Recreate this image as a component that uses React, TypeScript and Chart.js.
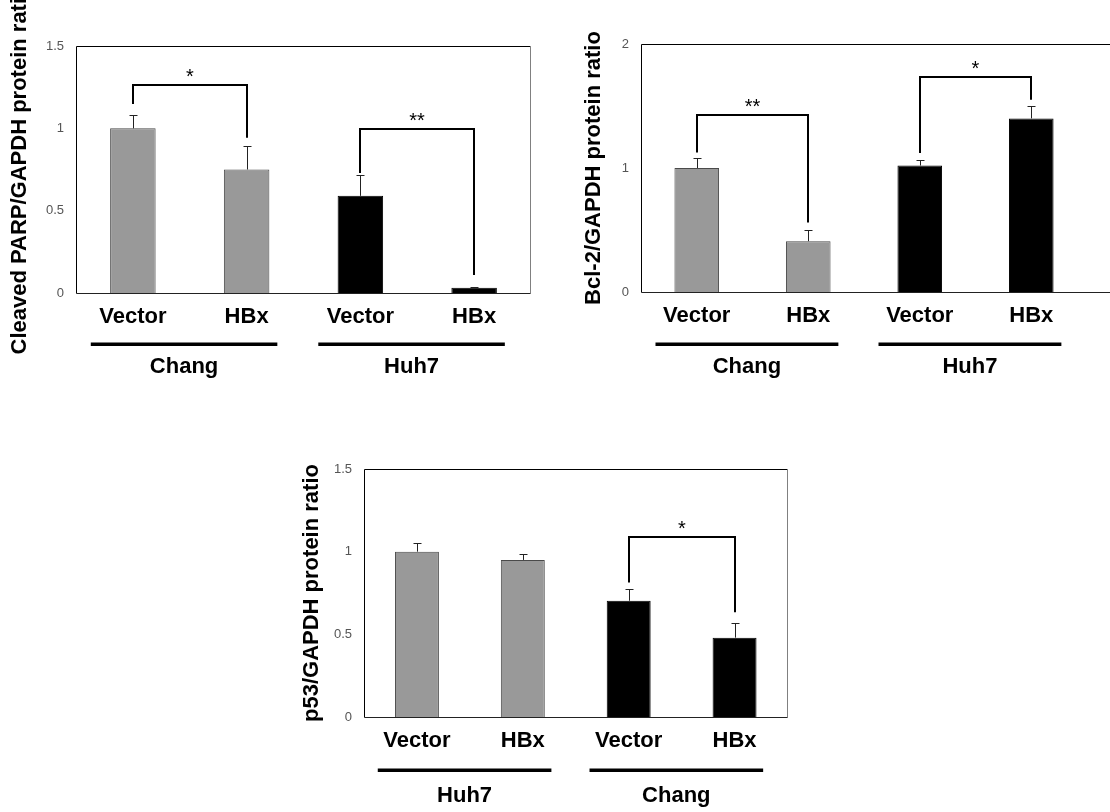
import React, { useEffect, useRef } from 'react';
import { Chart, registerables } from 'chart.js';

Chart.register(...registerables);

const FONT = 'Arial, "Liberation Sans", Helvetica, sans-serif';
Chart.defaults.font.family = FONT;

// ---------- data ----------
const categories = ['Vector', 'HBx', 'Vector', 'HBx'];

const GRAY = '#999999';
const BLACK = '#000000';
const barColors = [GRAY, GRAY, BLACK, BLACK];
const barBorders = ['#4a4a4a', '#4a4a4a', BLACK, BLACK];

// Chart 1: Cleaved PARP
const parpGroups = ['Chang', 'Huh7'];
const parpValues = [1.0, 0.75, 0.59, 0.032];
const parpErrors = [0.083, 0.14, 0.125, 0.005];
const parpTicks = [0, 0.5, 1, 1.5];
const parpBrackets = [
  { from: 0, to: 1, top: 1.263, left: 1.148, right: 0.943, mark: '*' },
  { from: 2, to: 3, top: 0.996, left: 0.729, right: 0.109, mark: '**' },
];

// Chart 2: Bcl-2
const bclGroups = ['Chang', 'Huh7'];
const bclValues = [1.0, 0.41, 1.02, 1.4];
const bclErrors = [0.08, 0.09, 0.045, 0.1];
const bclTicks = [0, 1, 2];
const bclBrackets = [
  { from: 0, to: 1, top: 1.424, left: 1.126, right: 0.561, mark: '**' },
  { from: 2, to: 3, top: 1.73, left: 1.12, right: 1.55, mark: '*' },
];

// Chart 3: p53
const p53Groups = ['Huh7', 'Chang'];
const p53Values = [1.0, 0.95, 0.703, 0.48];
const p53Errors = [0.054, 0.038, 0.073, 0.086];
const p53Ticks = [0, 0.5, 1, 1.5];
const p53Brackets = [
  { from: 2, to: 3, top: 1.089, left: 0.814, right: 0.633, mark: '*' },
];

type Bracket = { from: number; to: number; top: number; left: number; right: number; mark: string };

type Spec = {
  title: string;
  values: number[];
  errors: number[];
  groups: string[];
  ticks: number[];
  brackets: Bracket[];
  box: { left: number; top: number; w: number; h: number };
  yWidth: number;
  padTop: number;
  padRight: number;
  xHeight: number;
  titlePad: number;
  xMax: number;
  lineOff: number;
  labelOff: number;
  barPct: number;
};

const specs: Spec[] = [
  {
    title: 'Cleaved PARP/GAPDH protein ratio',
    values: parpValues, errors: parpErrors, groups: parpGroups, ticks: parpTicks, brackets: parpBrackets,
    box: { left: 0, top: 0, w: 545, h: 385 },
    yWidth: 76, padTop: 46, padRight: 14, xHeight: 92, titlePad: 7, xMax: 3.5,
    lineOff: 51, labelOff: 74, barPct: 0.4,
  },
  {
    title: 'Bcl-2/GAPDH protein ratio',
    values: bclValues, errors: bclErrors, groups: bclGroups, ticks: bclTicks, brackets: bclBrackets,
    box: { left: 560, top: 0, w: 554, h: 385 },
    yWidth: 81, padTop: 44, padRight: 0, xHeight: 93, titlePad: 21, xMax: 3.742,
    lineOff: 52, labelOff: 75, barPct: 0.4,
  },
  {
    title: 'p53/GAPDH protein ratio',
    values: p53Values, errors: p53Errors, groups: p53Groups, ticks: p53Ticks, brackets: p53Brackets,
    box: { left: 270, top: 420, w: 530, h: 392 },
    yWidth: 94, padTop: 49, padRight: 12.5, xHeight: 95, titlePad: 29, xMax: 3.5,
    lineOff: 53, labelOff: 79, barPct: 0.415,
  },
];

function makeDecor(spec: Spec) {
  return {
    id: 'decor',
    afterDatasetsDraw(chart: any) {
      const { ctx, chartArea: a, scales } = chart;
      const x = scales.x;
      const y = scales.y;
      const meta = chart.getDatasetMeta(0);
      ctx.save();

      // error bars (upper only)
      ctx.strokeStyle = '#222';
      ctx.lineWidth = 1;
      meta.data.forEach((el: any, i: number) => {
        const px = Math.round(el.x) + 0.5;
        const yTop = Math.round(y.getPixelForValue(spec.values[i] + spec.errors[i])) + 0.5;
        ctx.beginPath();
        ctx.moveTo(px, el.y);
        ctx.lineTo(px, yTop);
        ctx.moveTo(px - 4, yTop);
        ctx.lineTo(px + 4, yTop);
        ctx.stroke();
      });

      // frame
      const L = Math.round(a.left) + 0.5;
      const R = Math.round(a.right) - 0.5;
      const T = Math.round(a.top) + 0.5;
      const B = Math.round(a.bottom) + 0.5;
      ctx.lineWidth = 1;
      ctx.strokeStyle = '#000';
      ctx.beginPath();
      ctx.moveTo(L, B); ctx.lineTo(L, T); ctx.lineTo(R, T);
      ctx.stroke();
      ctx.strokeStyle = '#808080';
      ctx.beginPath();
      ctx.moveTo(R, T); ctx.lineTo(R, B);
      ctx.stroke();
      ctx.strokeStyle = '#222';
      ctx.beginPath();
      ctx.moveTo(L, B); ctx.lineTo(R, B);
      ctx.stroke();

      // significance brackets
      ctx.strokeStyle = '#000';
      ctx.fillStyle = '#000';
      ctx.lineWidth = 2;
      spec.brackets.forEach((b) => {
        const xl = Math.round(x.getPixelForValue(b.from));
        const xr = Math.round(x.getPixelForValue(b.to));
        const yt = Math.round(y.getPixelForValue(b.top));
        const yl = y.getPixelForValue(b.left);
        const yr = y.getPixelForValue(b.right);
        ctx.beginPath();
        ctx.moveTo(xl, yl);
        ctx.lineTo(xl, yt);
        ctx.lineTo(xr, yt);
        ctx.lineTo(xr, yr);
        ctx.stroke();
        ctx.font = `20px ${FONT}`;
        ctx.textAlign = 'center';
        ctx.textBaseline = 'alphabetic';
        ctx.fillText(b.mark, (xl + xr) / 2, yt - 2);
      });

      // group underlines and labels
      spec.groups.forEach((g, gi) => {
        const from = gi * 2;
        const to = gi * 2 + 1;
        const xl = x.getPixelForValue(from - 0.37);
        const xr = x.getPixelForValue(to + 0.27);
        ctx.fillStyle = '#000';
        ctx.fillRect(xl, a.bottom + spec.lineOff - 1.5, xr - xl, 3.5);
        ctx.font = `bold 22px ${FONT}`;
        ctx.textAlign = 'center';
        ctx.textBaseline = 'middle';
        ctx.fillText(g, (xl + xr) / 2, a.bottom + spec.labelOff);
      });

      ctx.restore();
    },
  };
}

function Panel({ spec }: { spec: Spec }) {
  const ref = useRef<HTMLCanvasElement | null>(null);
  useEffect(() => {
    if (!ref.current) return;
    const chart = new Chart(ref.current, {
      type: 'bar',
      data: {
        datasets: [
          {
            data: spec.values.map((v, i) => ({ x: i, y: v })),
            backgroundColor: barColors,
            borderColor: barBorders,
            borderWidth: 1,
            barPercentage: spec.barPct,
            categoryPercentage: 1,
          },
        ],
      },
      options: {
        animation: false,
        responsive: false,
        maintainAspectRatio: false,
        layout: { padding: { left: 0, top: spec.padTop, right: spec.padRight, bottom: 0 } },
        plugins: { legend: { display: false }, tooltip: { enabled: false } },
        scales: {
          x: {
            type: 'linear',
            min: -0.5,
            max: spec.xMax,
            offset: false,
            grid: { display: false, drawTicks: false },
            border: { display: false },
            afterBuildTicks: (s: any) => {
              s.ticks = categories.map((_, i) => ({ value: i }));
            },
            afterFit: (s: any) => {
              s.height = spec.xHeight;
            },
            ticks: {
              autoSkip: false,
              maxRotation: 0,
              minRotation: 0,
              padding: 11,
              color: '#000',
              font: { size: 22, weight: 'bold', family: FONT },
              callback: (v: any) => categories[Math.round(Number(v))] ?? '',
            },
          },
          y: {
            type: 'linear',
            min: spec.ticks[0],
            max: spec.ticks[spec.ticks.length - 1],
            grid: { display: false, drawTicks: false },
            border: { display: false },
            afterBuildTicks: (s: any) => {
              s.ticks = spec.ticks.map((v) => ({ value: v }));
            },
            afterFit: (s: any) => {
              s.width = spec.yWidth;
            },
            ticks: {
              padding: 12,
              color: '#555',
              font: { size: 13, family: FONT },
              callback: (v: any) => String(v),
            },
            title: {
              display: true,
              text: spec.title,
              color: '#000',
              font: { size: 22, weight: 'bold', family: FONT },
              padding: { top: spec.titlePad, bottom: 0 },
            },
          },
        },
      } as any,
      plugins: [makeDecor(spec)],
    });
    return () => chart.destroy();
  }, [spec]);

  return (
    <canvas
      ref={ref}
      width={spec.box.w}
      height={spec.box.h}
      style={{
        position: 'absolute',
        left: spec.box.left,
        top: spec.box.top,
        width: spec.box.w,
        height: spec.box.h,
      }}
    />
  );
}

export default function App() {
  return (
    <div
      style={{
        position: 'fixed',
        left: 0,
        top: 0,
        width: 1110,
        height: 812,
        overflow: 'hidden',
        background: '#fff',
      }}
    >
      {specs.map((s, i) => (
        <Panel key={i} spec={s} />
      ))}
    </div>
  );
}
